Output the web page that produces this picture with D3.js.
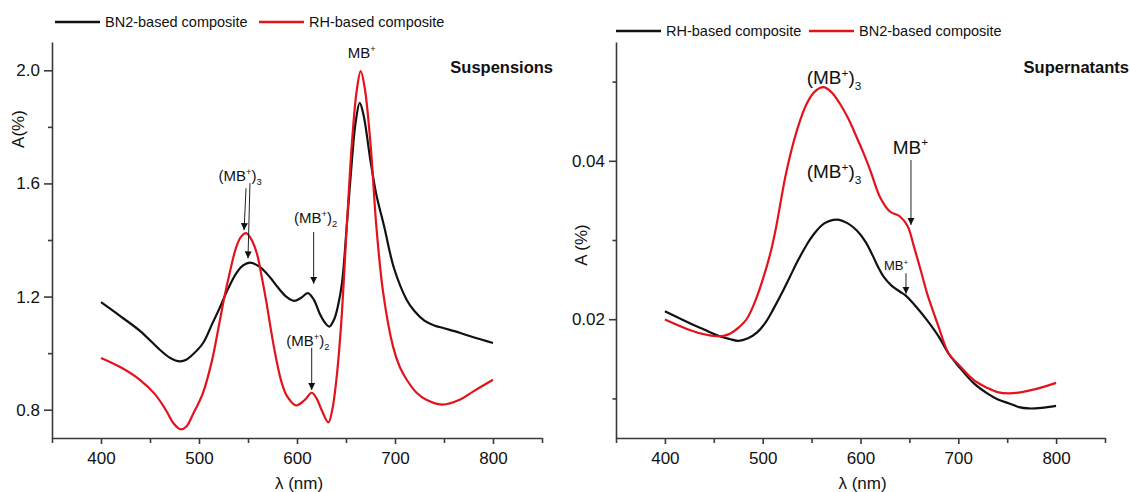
<!DOCTYPE html>
<html lang="en">
  <head>
    <meta charset="UTF-8" />
    <title>Absorption spectra: suspensions and supernatants</title>
    <script src="https://d3js.org/d3.v7.min.js"></script>
    <style>
      body {
        margin: 0;
        background: #fff;
      }
      svg text {
        font-family: "Liberation Sans", Arial, sans-serif;
        fill: #111;
      }
      .axis path,
      .axis line {
        stroke: #3a3a3a;
        stroke-width: 1.6;
      }
      .curve {
        fill: none;
        stroke-width: 2.2;
      }
    </style>
  </head>
  <body>
    <div id="chart"></div>

    <script>
      // wavelengths (nm) and absorbance A (%)
      const suspBn2Wl = [400, 420, 440, 460, 470, 476, 481, 487, 492, 504, 513, 521, 530, 538, 545, 552, 562, 572, 581, 589, 597, 604, 611, 617, 623, 628, 633, 638, 642, 646, 651, 656, 660, 664, 668, 675, 681, 689, 699, 712, 720, 730, 740, 750, 766, 780, 800];
      const suspBn2A = [1.18, 1.13, 1.078, 1.012, 0.984, 0.974, 0.971, 0.977, 0.99, 1.035, 1.1, 1.159, 1.23, 1.282, 1.31, 1.32, 1.305, 1.27, 1.23, 1.2, 1.185, 1.195, 1.212, 1.19, 1.141, 1.11, 1.094, 1.12, 1.17, 1.25, 1.46, 1.68, 1.82, 1.885, 1.84, 1.68, 1.56, 1.447, 1.3, 1.188, 1.148, 1.115, 1.098, 1.088, 1.072, 1.056, 1.036];

      const suspRhWl = [400, 420, 440, 455, 466, 474, 481, 487, 494, 504, 513, 521, 526, 532, 538, 543, 548, 553, 559, 564, 569, 574, 579, 584, 590, 599, 608, 615, 620, 625, 632, 636, 640, 645, 651, 656, 661, 665, 669, 675, 681, 688, 698, 705, 712, 722, 732, 748, 766, 780, 800];
      const suspRhA = [0.983, 0.95, 0.905, 0.855, 0.8, 0.752, 0.731, 0.74, 0.785, 0.859, 0.97, 1.11, 1.2, 1.294, 1.375, 1.412, 1.424, 1.405, 1.353, 1.27, 1.176, 1.07, 0.976, 0.9, 0.847, 0.815, 0.835, 0.86, 0.84, 0.8, 0.755, 0.8, 0.9, 1.1, 1.46, 1.741, 1.93, 1.997, 1.94, 1.741, 1.447, 1.212, 1.023, 0.95, 0.906, 0.86, 0.835, 0.818, 0.835, 0.865, 0.906];

      const supRhWl = [400, 426, 440, 456, 466, 475, 485, 494, 503, 511, 520, 528, 536, 545, 552, 563, 576, 587, 596, 605, 613, 618, 624, 632, 640, 646, 656, 668, 680, 690, 700, 716, 730, 740, 752, 762, 772, 785, 800];
      const supRhA = [0.021, 0.01946, 0.0187, 0.01785, 0.0175, 0.01727, 0.0176, 0.0183, 0.0196, 0.0213, 0.0234, 0.0254, 0.0274, 0.0294, 0.0307, 0.0321, 0.03258, 0.0321, 0.03123, 0.0298, 0.0279, 0.0266, 0.0253, 0.0242, 0.0235, 0.023, 0.0217, 0.01988, 0.0178, 0.01567, 0.0141, 0.01189, 0.0106, 0.0099, 0.00936, 0.0089, 0.00873, 0.0088, 0.00906];

      const supBn2Wl = [400, 426, 440, 453, 460, 467, 475, 484, 494, 504, 509, 514, 524, 535, 545, 553, 562, 570, 579, 588, 596, 603, 610, 620, 630, 640, 648, 655, 662, 668, 680, 690, 700, 716, 730, 740, 752, 765, 780, 800];
      const supBn2A = [0.01997, 0.01861, 0.0181, 0.01785, 0.0179, 0.0182, 0.0189, 0.02009, 0.02281, 0.0266, 0.0289, 0.0318, 0.0385, 0.04385, 0.0472, 0.0487, 0.0493, 0.0487, 0.0472, 0.0452, 0.043, 0.041, 0.0388, 0.0354, 0.0336, 0.033, 0.0318, 0.029, 0.026, 0.0233, 0.019, 0.0157, 0.0143, 0.0123, 0.0113, 0.0108, 0.01063, 0.0108, 0.0112, 0.01196];

      // axis ticks
      const xMajor = [400, 500, 600, 700, 800];
      const xMinor = [350, 450, 550, 650, 750, 850];
      const suspYMajor = [0.8, 1.2, 1.6, 2.0];
      const suspYMinor = [1.0, 1.4, 1.8];
      const supYMajor = [0.02, 0.04];
      const supYMinor = [0.01, 0.03, 0.05];

      // legends (order as in the figure)
      const suspLegend = ["BN2-based composite", "RH-based composite"];
      const supLegend = ["RH-based composite", "BN2-based composite"];

      const BLACK = "#111";
      const RED = "#e3121b";

      const svg = d3
        .select("#chart")
        .append("svg")
        .attr("width", 1130)
        .attr("height", 492);

      svg
        .append("defs")
        .append("marker")
        .attr("id", "arrow")
        .attr("viewBox", "0 0 10 10")
        .attr("refX", 10)
        .attr("refY", 5)
        .attr("markerWidth", 7)
        .attr("markerHeight", 9)
        .attr("markerUnits", "userSpaceOnUse")
        .attr("orient", "auto")
        .append("path")
        .attr("d", "M0,0L10,5L0,10Z")
        .attr("fill", "#111");

      // text like (MB+)n with super- and subscripts
      function mbLabel(g, x, y, size, sub) {
        const t = g
          .append("text")
          .attr("x", x)
          .attr("y", y)
          .attr("font-size", size);
        const s = size * 0.62;
        if (sub) t.append("tspan").text("(");
        t.append("tspan").text("MB");
        t.append("tspan").attr("font-size", s).attr("dy", -size * 0.4).text("+");
        if (sub) {
          t.append("tspan").attr("dy", size * 0.4).text(")");
          t.append("tspan").attr("font-size", s).attr("dy", size * 0.28).text(sub);
        }
        return t;
      }

      function drawPanel(cfg) {
        const x = d3.scaleLinear().domain([350, 850]).range(cfg.xr);
        const y = d3.scaleLinear().domain(cfg.yd).range([438, 42]);
        const g = svg.append("g");

        // axes
        g.append("g")
          .attr("class", "axis")
          .attr("transform", `translate(${cfg.xr[0]},0)`)
          .call(
            d3
              .axisLeft(y)
              .tickValues(cfg.yMajor)
              .tickSize(cfg.yTick)
              .tickSizeOuter(0)
              .tickPadding(4)
              .tickFormat(d3.format(cfg.yFmt))
          )
          .selectAll("text")
          .attr("font-size", 17);
        g.append("g")
          .attr("class", "axis")
          .attr("transform", `translate(${cfg.xr[0]},0)`)
          .call(d3.axisLeft(y).tickValues(cfg.yMinor).tickSize(cfg.yTick / 2).tickFormat(""))
          .select(".domain")
          .remove();

        g.append("g")
          .attr("class", "axis")
          .attr("transform", "translate(0,438)")
          .call(d3.axisBottom(x).tickValues(xMajor).tickSize(6).tickSizeOuter(0).tickPadding(8))
          .selectAll("text")
          .attr("font-size", 17);
        g.append("g")
          .attr("class", "axis")
          .attr("transform", "translate(0,438)")
          .call(d3.axisBottom(x).tickValues(xMinor).tickSize(5).tickFormat(""))
          .select(".domain")
          .remove();

        // axis titles
        g.append("text")
          .attr("x", (cfg.xr[0] + cfg.xr[1]) / 2 + 2)
          .attr("y", 489)
          .attr("text-anchor", "middle")
          .attr("font-size", 17)
          .text("λ (nm)");
        g.append("text")
          .attr("transform", `translate(${cfg.yTitle[0]},${cfg.yTitle[1]}) rotate(-90)`)
          .attr("text-anchor", "middle")
          .attr("font-size", 17)
          .text(cfg.yLabel);

        // curves
        const line = d3
          .line()
          .x((d) => x(d[0]))
          .y((d) => y(d[1]))
          .curve(d3.curveCatmullRom.alpha(0.5));
        cfg.series.forEach((s) => {
          g.append("path")
            .datum(d3.zip(s.wl, s.a))
            .attr("class", "curve")
            .attr("stroke", s.color)
            .attr("d", line);
        });

        // legend
        cfg.legend.forEach((name, i) => {
          const lx = cfg.legendX[i];
          g.append("line")
            .attr("x1", lx)
            .attr("x2", lx + 45)
            .attr("y1", cfg.legendY)
            .attr("y2", cfg.legendY)
            .attr("stroke", i === 0 ? BLACK : RED)
            .attr("stroke-width", 2.6);
          g.append("text")
            .attr("x", lx + 50)
            .attr("y", cfg.legendY + 5)
            .attr("font-size", 14.5)
            .text(name);
        });

        // panel title
        g.append("text")
          .attr("x", cfg.title[1])
          .attr("y", 73)
          .attr("text-anchor", "end")
          .attr("font-size", 16.5)
          .attr("font-weight", "bold")
          .text(cfg.title[0]);

        // peak labels and arrows, in data coordinates
        cfg.labels.forEach((l) => {
          const t = mbLabel(g, x(l.at[0]), y(l.at[1]), l.size, l.sub);
          if (l.anchor) t.attr("text-anchor", l.anchor);
        });
        cfg.arrows.forEach((a) => {
          g.append("line")
            .attr("x1", x(a[0]))
            .attr("y1", y(a[1]))
            .attr("x2", x(a[2]))
            .attr("y2", y(a[3]))
            .attr("stroke", "#222")
            .attr("stroke-width", 1)
            .attr("marker-end", "url(#arrow)");
        });
      }

      drawPanel({
        xr: [52, 542],
        yd: [0.7, 2.1],
        yMajor: suspYMajor,
        yMinor: suspYMinor,
        yFmt: ".1f",
        yTick: 8,
        yLabel: "A(%)",
        yTitle: [24, 129],
        series: [
          { wl: suspBn2Wl, a: suspBn2A, color: BLACK },
          { wl: suspRhWl, a: suspRhA, color: RED }
        ],
        legend: suspLegend,
        legendX: [55, 259],
        legendY: 22,
        title: ["Suspensions", 553],
        labels: [
          { at: [666, 2.042], size: 15, sub: null, anchor: "middle" },
          { at: [542, 1.608], size: 15, sub: "3", anchor: "middle" },
          { at: [619, 1.46], size: 15, sub: "2", anchor: "middle" },
          { at: [611, 1.026], size: 15, sub: "2", anchor: "middle" }
        ],
        arrows: [
          [548, 1.583, 546, 1.435],
          [552, 1.601, 550, 1.335],
          [617, 1.428, 617, 1.245],
          [615, 1.019, 615, 0.87]
        ]
      });

      drawPanel({
        xr: [616, 1105],
        yd: [0.005, 0.055],
        yMajor: supYMajor,
        yMinor: supYMinor,
        yFmt: ".2f",
        yTick: 7,
        yLabel: "A (%)",
        yTitle: [587, 245],
        series: [
          { wl: supRhWl, a: supRhA, color: BLACK },
          { wl: supBn2Wl, a: supBn2A, color: RED }
        ],
        legend: supLegend,
        legendX: [616, 809],
        legendY: 31,
        title: ["Supernatants", 1129],
        labels: [
          { at: [545, 0.04965], size: 19, sub: "3" },
          { at: [545, 0.0378], size: 19, sub: "3" },
          { at: [633, 0.0409], size: 19, sub: null },
          { at: [624, 0.0262], size: 13, sub: null }
        ],
        arrows: [
          [651.6, 0.0401, 651.6, 0.0319],
          [646.5, 0.0258, 646.5, 0.0232]
        ]
      });
    </script>
  </body>
</html>
